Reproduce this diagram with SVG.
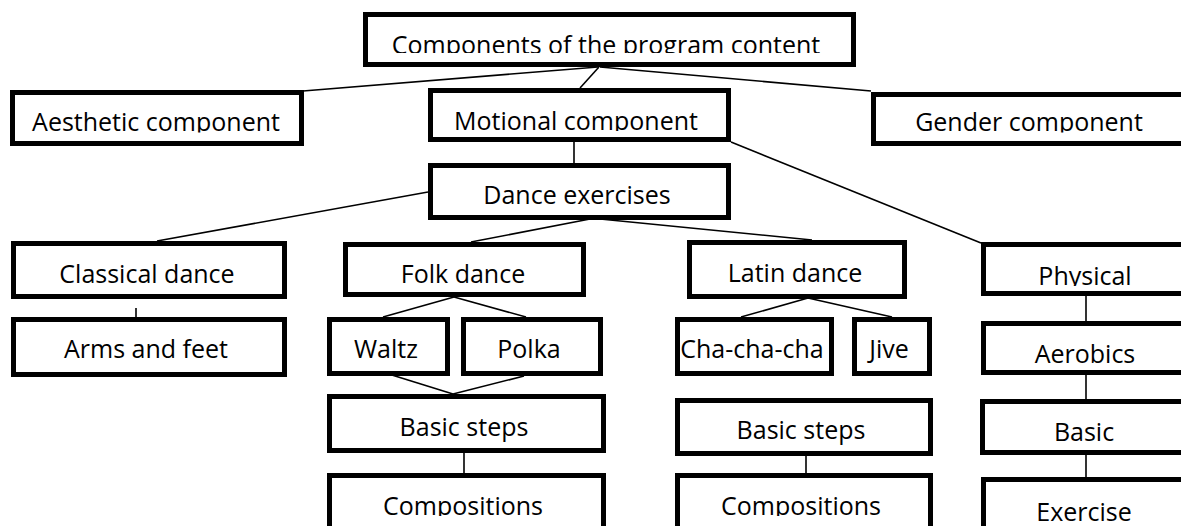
<svg xmlns="http://www.w3.org/2000/svg" width="1181" height="526" viewBox="0 0 1181 526">
  <style>
    .box { fill: #ffffff; stroke: #000000; stroke-width: 5; }
    .lbl { font-family: "Open Sans", "Noto Sans", sans-serif; font-size: 25px; fill: #000000; text-anchor: middle; }
    .conn line { stroke: #000000; stroke-width: 1.6; fill: none; }
  </style>
  <defs>
    <clipPath id="c-top"><rect x="360" y="0" width="500" height="53"/></clipPath>
    <clipPath id="c-aes"><rect x="0" y="80" width="310" height="52.5"/></clipPath>
    <clipPath id="c-mot"><rect x="420" y="80" width="320" height="51"/></clipPath>
    <clipPath id="c-gen"><rect x="860" y="80" width="330" height="52.5"/></clipPath>
    <clipPath id="c-phy"><rect x="975" y="235" width="220" height="51"/></clipPath>
    <clipPath id="c-comp"><rect x="0" y="460" width="1181" height="56"/></clipPath>
    <clipPath id="c-ex"><rect x="975" y="470" width="220" height="51"/></clipPath>
  </defs>
  <rect width="1181" height="526" fill="#ffffff"/>

  <g id="connectors" class="conn">
    <line x1="598" y1="67" x2="303" y2="91"/>
    <line x1="599" y1="67" x2="580" y2="88"/>
    <line x1="600" y1="67" x2="871" y2="91"/>
    <line x1="574" y1="142" x2="574" y2="163"/>
    <line x1="731" y1="142" x2="981" y2="243"/>
    <line x1="428" y1="192" x2="157" y2="241"/>
    <line x1="590" y1="219" x2="471" y2="242"/>
    <line x1="590" y1="218" x2="812" y2="240"/>
    <line x1="136" y1="308" x2="136" y2="317"/>
    <line x1="454" y1="297" x2="383" y2="317"/>
    <line x1="454" y1="297" x2="526" y2="317"/>
    <line x1="379" y1="371" x2="453" y2="394"/>
    <line x1="524" y1="376" x2="453" y2="394"/>
    <line x1="464" y1="453" x2="464" y2="479"/>
    <line x1="808" y1="292" x2="808" y2="296"/>
    <line x1="808" y1="298" x2="741" y2="317"/>
    <line x1="808" y1="298" x2="892" y2="317"/>
    <line x1="806" y1="456" x2="806" y2="475"/>
    <line x1="1086" y1="296" x2="1086" y2="321"/>
    <line x1="1086" y1="375" x2="1086" y2="399"/>
    <line x1="1086" y1="455" x2="1086" y2="478"/>
  </g>

  <g id="node-program-content">
    <rect class="box" x="365.5" y="14.5" width="488" height="50"/>
    <text class="lbl" x="606" y="54" clip-path="url(#c-top)">Components of the program content</text>
  </g>
  <g id="node-aesthetic">
    <rect class="box" x="12.5" y="92.5" width="289" height="51"/>
    <text class="lbl" x="156" y="131" clip-path="url(#c-aes)">Aesthetic component</text>
  </g>
  <g id="node-motional">
    <rect class="box" x="430.5" y="90.5" width="298" height="49"/>
    <text class="lbl" x="576" y="130" clip-path="url(#c-mot)">Motional component</text>
  </g>
  <g id="node-gender">
    <rect class="box" x="873.5" y="94.5" width="330" height="49"/>
    <text class="lbl" x="1029" y="131" clip-path="url(#c-gen)">Gender component</text>
  </g>
  <g id="node-dance-exercises">
    <rect class="box" x="430.5" y="165.5" width="298" height="52"/>
    <text class="lbl" x="577" y="204">Dance exercises</text>
  </g>
  <g id="node-classical">
    <rect class="box" x="13.5" y="243.5" width="271" height="53"/>
    <text class="lbl" x="147" y="283">Classical dance</text>
  </g>
  <g id="node-folk">
    <rect class="box" x="345.5" y="244.5" width="238" height="50"/>
    <text class="lbl" x="463" y="283">Folk dance</text>
  </g>
  <g id="node-latin">
    <rect class="box" x="689.5" y="242.5" width="215" height="54"/>
    <text class="lbl" x="795" y="282">Latin dance</text>
  </g>
  <g id="node-physical">
    <rect class="box" x="983.5" y="244.5" width="230" height="49"/>
    <text class="lbl" x="1085" y="285" clip-path="url(#c-phy)">Physical</text>
  </g>
  <g id="node-arms-feet">
    <rect class="box" x="13.5" y="319.5" width="271" height="55"/>
    <text class="lbl" x="146" y="358">Arms and feet</text>
  </g>
  <g id="node-waltz">
    <rect class="box" x="329.5" y="319.5" width="118" height="54"/>
    <text class="lbl" x="386" y="358">Waltz</text>
  </g>
  <g id="node-polka">
    <rect class="box" x="463.5" y="319.5" width="137" height="54"/>
    <text class="lbl" x="529" y="358">Polka</text>
  </g>
  <g id="node-chachacha">
    <rect class="box" x="677.5" y="319.5" width="154" height="54"/>
    <text class="lbl" x="752" y="358">Cha-cha-cha</text>
  </g>
  <g id="node-jive">
    <rect class="box" x="854.5" y="319.5" width="75" height="54"/>
    <text class="lbl" x="889" y="358">Jive</text>
  </g>
  <g id="node-aerobics">
    <rect class="box" x="983.5" y="323.5" width="230" height="49"/>
    <text class="lbl" x="1085" y="363">Aerobics</text>
  </g>
  <g id="node-basic-steps-folk">
    <rect class="box" x="329.5" y="396.5" width="274" height="54"/>
    <text class="lbl" x="464" y="436">Basic steps</text>
  </g>
  <g id="node-basic-steps-latin">
    <rect class="box" x="677.5" y="400.5" width="253" height="53"/>
    <text class="lbl" x="801" y="439">Basic steps</text>
  </g>
  <g id="node-basic">
    <rect class="box" x="982.5" y="401.5" width="230" height="51"/>
    <text class="lbl" x="1084" y="441">Basic</text>
  </g>
  <g id="node-compositions-folk">
    <rect class="box" x="329.5" y="475.5" width="274" height="70"/>
    <text class="lbl" x="463" y="515" clip-path="url(#c-comp)">Compositions</text>
  </g>
  <g id="node-compositions-latin">
    <rect class="box" x="677.5" y="475.5" width="253" height="70"/>
    <text class="lbl" x="801" y="515" clip-path="url(#c-comp)">Compositions</text>
  </g>
  <g id="node-exercise">
    <rect class="box" x="983.5" y="479.5" width="230" height="70"/>
    <text class="lbl" x="1084" y="521" clip-path="url(#c-ex)">Exercise</text>
  </g>
</svg>
